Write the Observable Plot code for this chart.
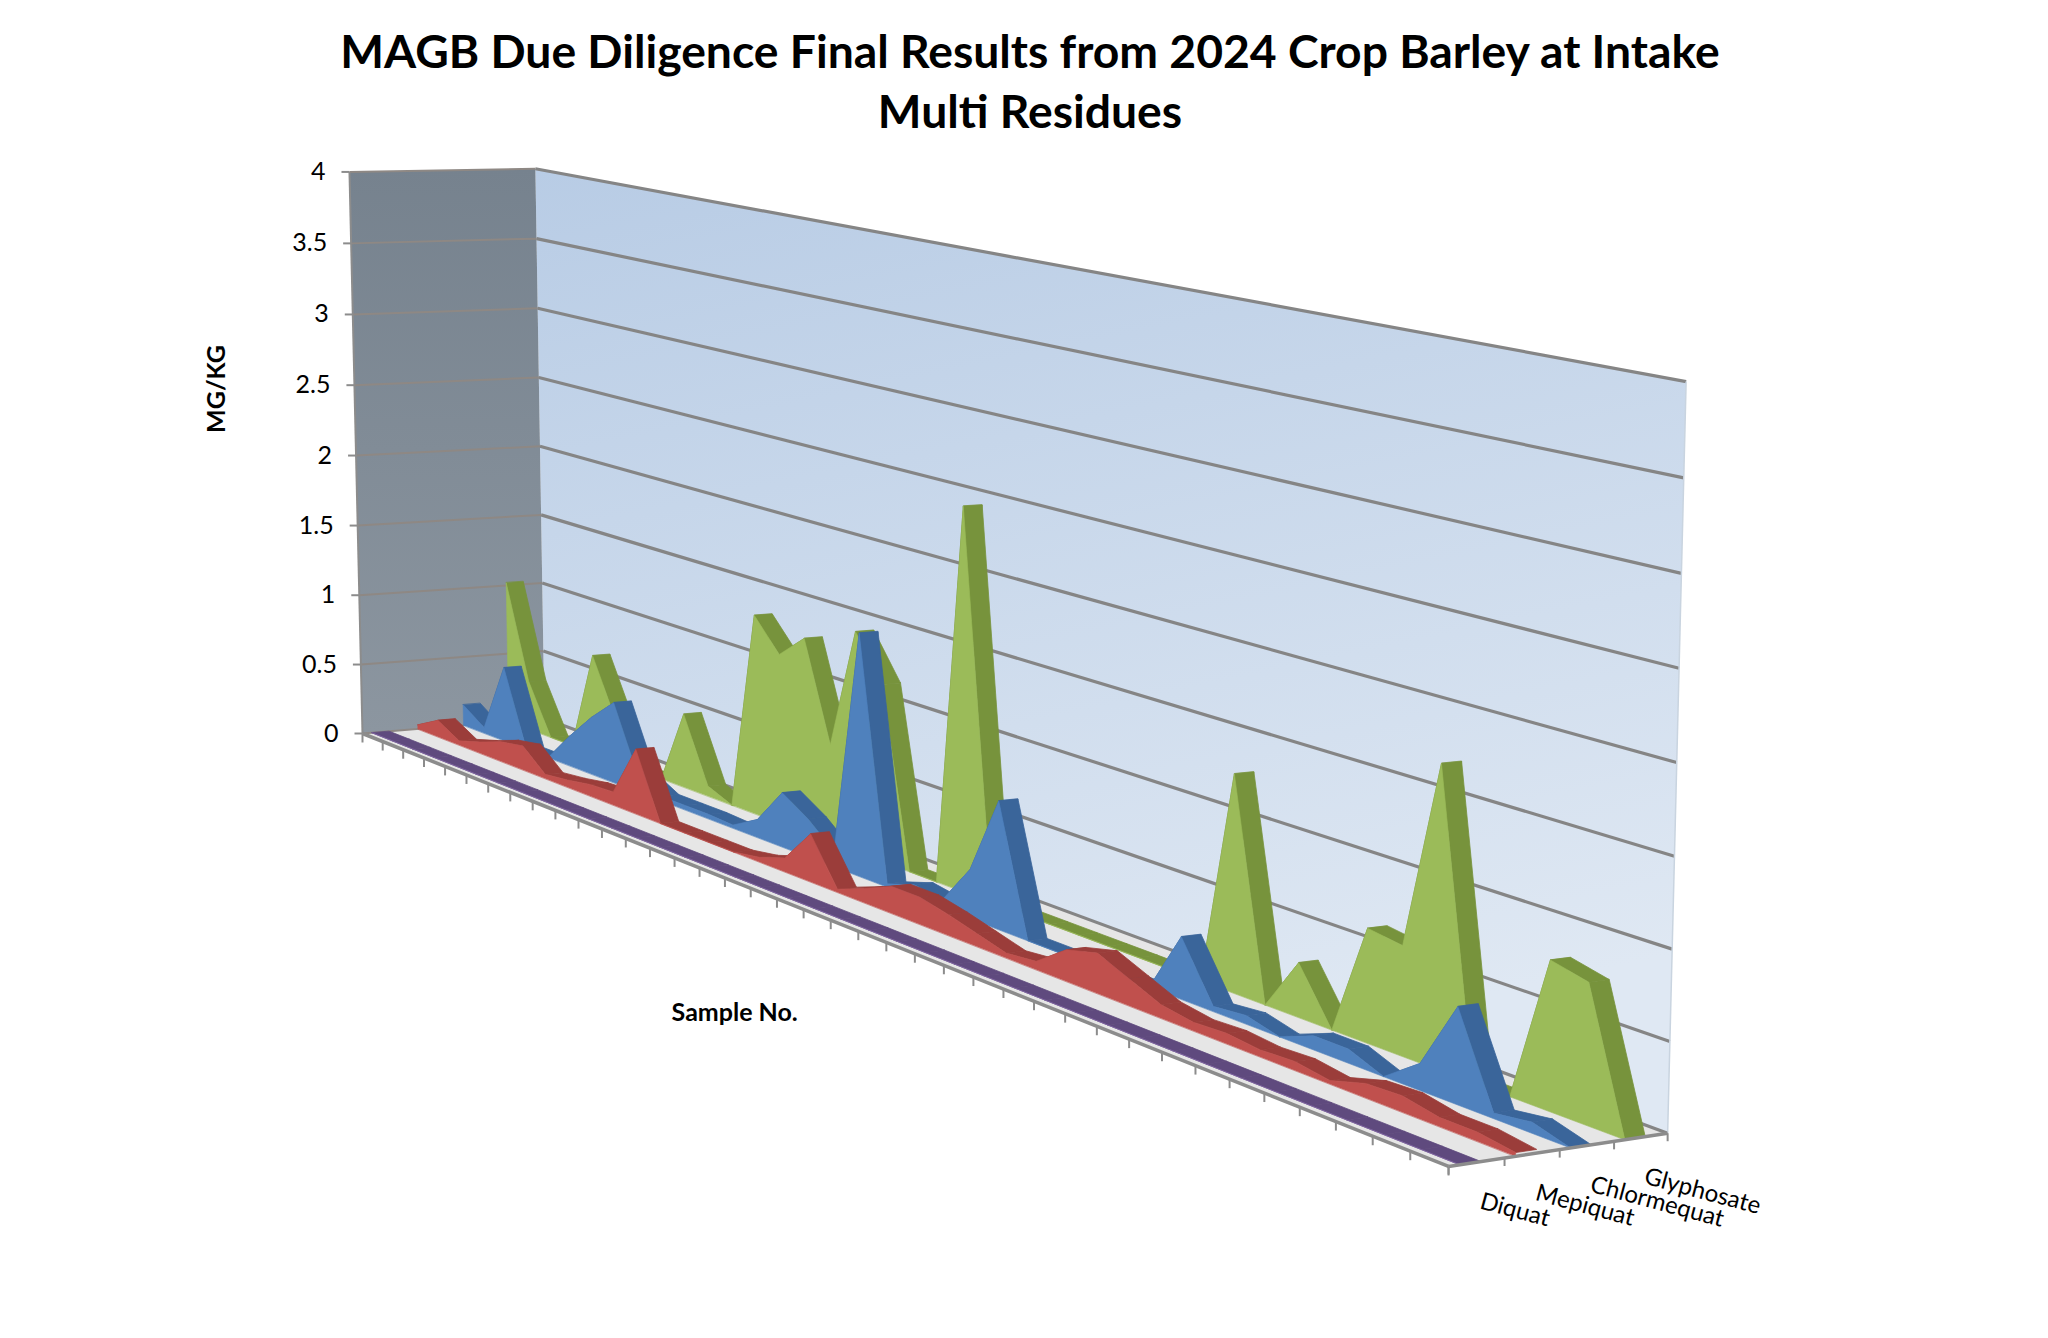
<!DOCTYPE html>
<html>
<head>
<meta charset="utf-8">
<script src="https://cdn.jsdelivr.net/npm/d3@7"></script>
<script src="https://cdn.jsdelivr.net/npm/@observablehq/plot@0.6"></script>
<style>
  html, body { margin: 0; padding: 0; background: #fff; }
  #wrap { position: relative; width: 2048px; height: 1338px; overflow: hidden; background: #fff; }
  #title { position: absolute; left: 0; width: 2060px; margin: 0; text-align: center;
           font-family: Lato, "Open Sans", sans-serif; font-weight: 700; color: #000; line-height: 60px; }
  #chart svg { display: block; }
</style>
</head>
<body>
<div id="wrap">
  <div id="chart"></div>
  <h1 id="title">MAGB Due Diligence Final Results from 2024 Crop Barley at Intake<br>Multi Residues</h1>
</div>
<script>
// ---------------- data ----------------
const sampleNo = [1,2,3,4,5,6,7,8,9,10,11,12,13,14,15,16,17,18,19,20,
                  21,22,23,24,25,26,27,28,29,30,31,32,33,34,35,36,37,38,39,40];
const seriesNames = ["Diquat", "Mepiquat", "Chlormequat", "Glyphosate"];
const diquat = [0,0,0,0,0,0,0,0,0,0, 0,0,0,0,0,0,0,0,0,0,
                0,0,0,0,0,0,0,0,0,0, 0,0,0,0,0,0,0,0,0,0];
const mepiquat = [0.03,0.12,0.03,0.08,0.14,0.17,0.03,0.05,0.08,0.09,
                  0.44,0,0,0,0,0.03,0.09,0.31,0.02,0.09,
                  0.17,0.17,0.13,0.08,0.03,0.05,0.19,0.24,0.16,0.08,
                  0.05,0.06,0.04,0.05,0.02,0.08,0.09,0.05,0.05,0.02];
const chlormequat = [0.15,0.04,0.53,0,0,0.21,0.40,0.56,0.12,0.03,
                     0.03,0.03,0.02,0.12,0.36,0.25,0.10,1.57,0.02,0.08,
                     0.05,0.31,0.80,0,0,0,0,0,0.37,0.03,
                     0.05,0,0.08,0.08,0,0.15,0.54,0.03,0.06,0];
const glyphosate = [1.02,0.35,0,0,0.70,0.30,0,0,0.51,0.07,
                    0,1.35,1.14,1.30,0.65,1.45,1.16,0,0,2.45,
                    0,0,0,0,0,0,0,0,1.30,0,
                    0.32,0,0.66,0.63,1.72,0,0,0.83,0.78,0];
const valueTicks = [0, 0.5, 1, 1.5, 2, 2.5, 3, 3.5, 4];
const valueTickLabels = ["0", "0.5", "1", "1.5", "2", "2.5", "3", "3.5", "4"];
const yMax = 4;

// ---------------- styling ----------------
const frontColors = ["#8064A2", "#C0504D", "#4F81BD", "#9BBB59"];
const topColors   = ["#5F4A7E", "#9B3D3A", "#3A659A", "#77933C"];
const FONT = "Lato, 'Open Sans', sans-serif";

// ---------------- 3D perspective projection (u: sample axis, v: series depth, Y: value/yMax) ----------------
const C = {a: 680.6, b: 193.7, c: 362, d: 106.5, e: 0.49, f: 733, g: -0.28, h: 0.02157, qx: -20, qy: -565, q3: -0.02};
function proj(u, v, Y) {
  const w = 1 + C.g * u + C.h * v + C.q3 * Y;
  return [(C.a * u + C.b * v + C.c + C.qx * Y) / w, (C.d * u + C.e * v + C.f + C.qy * Y) / w];
}
const seriesValues = [diquat, mepiquat, chlormequat, glyphosate];
const n = sampleNo.length;
const uAt = i => i / (n - 1);
const toRows = (id, pts) => pts.map(([x, y]) => ({id, x, y}));
const poly = (rows, opts) => Plot.line(rows, {x: "x", y: "y", z: "id", curve: "linear-closed", ...opts});

const marks = [];

// walls and floor
marks.push(poly(toRows("back", [proj(0,1,0), proj(1,1,0), proj(1,1,1), proj(0,1,1)]), {fill: "url(#gBack)", stroke: "none"}));
marks.push(poly(toRows("left", [proj(0,0,0), proj(0,1,0), proj(0,1,1), proj(0,0,1)]), {fill: "url(#gLeft)", stroke: "none"}));
marks.push(poly(toRows("floor", [proj(0,0,0), proj(1,0,0), proj(1,1,0), proj(0,1,0)]), {fill: "#e6e6e6", stroke: "none"}));

// gridlines on the left wall and the back wall
const gridRows = valueTicks.map(t => {
  const [lx1, ly1] = proj(0, 0, t / yMax), [lx2, ly2] = proj(0, 1, t / yMax), [bx2, by2] = proj(1, 1, t / yMax);
  return {t, lx1, ly1, lx2, ly2, bx2, by2};
});
marks.push(Plot.link(gridRows, {x1: "lx1", y1: "ly1", x2: "lx2", y2: "ly2", stroke: "#8e8884", strokeWidth: 2}));
marks.push(Plot.link(gridRows, {x1: "lx2", y1: "ly2", x2: "bx2", y2: "by2", stroke: "#858585", strokeWidth: 3.2}));
// back wall right edge
marks.push(Plot.link([{}], {x1: () => proj(1,1,0)[0], y1: () => proj(1,1,0)[1], x2: () => proj(1,1,1)[0], y2: () => proj(1,1,1)[1], stroke: "#c9d4e0", strokeWidth: 1.5}));

// series slabs, drawn back to front
for (let s = seriesValues.length - 1; s >= 0; s--) {
  const vals = seriesValues[s];
  const vf = (s + 0.2) / 4, vb = (s + 0.58) / 4;
  const quads = [];
  for (let i = 0; i < n - 1; i++) {
    const y0 = vals[i] / yMax, y1 = vals[i + 1] / yMax;
    quads.push(...toRows(`${s}-${i}`, [proj(uAt(i), vf, y0), proj(uAt(i + 1), vf, y1), proj(uAt(i + 1), vb, y1), proj(uAt(i), vb, y0)]));
  }
  marks.push(poly(quads, {fill: topColors[s], stroke: topColors[s], strokeWidth: 0.8}));
  const front = [proj(0, vf, 0), ...vals.map((val, i) => proj(uAt(i), vf, val / yMax)), proj(1, vf, 0)];
  marks.push(poly(toRows(`f${s}`, front), {fill: frontColors[s], stroke: frontColors[s], strokeWidth: 0.6}));
}

// value axis
marks.push(Plot.link([{}], {x1: () => proj(0,0,0)[0], y1: () => proj(0,0,0)[1], x2: () => proj(0,0,1)[0], y2: () => proj(0,0,1)[1], stroke: "#8c8c8c", strokeWidth: 2}));
const vTickRows = valueTicks.map((t, k) => { const [x, y] = proj(0, 0, t / yMax); return {x, y, label: valueTickLabels[k]}; });
marks.push(Plot.link(vTickRows, {x1: d => d.x - 8, y1: "y", x2: "x", y2: "y", stroke: "#8c8c8c", strokeWidth: 2}));
marks.push(Plot.text(vTickRows, {x: d => d.x - 24, y: "y", text: "label", textAnchor: "end", lineAnchor: "middle",
  fontSize: 25, fontFamily: FONT, fill: "#000"}));

// category (sample) axis
marks.push(Plot.link([{}], {x1: () => proj(0,0,0)[0], y1: () => proj(0,0,0)[1], x2: () => proj(1,0,0)[0], y2: () => proj(1,0,0)[1], stroke: "#8c8c8c", strokeWidth: 3.5}));
const cTickRows = sampleNo.map((d, i) => { const [x, y] = proj(uAt(i), 0, 0); return {x, y}; });
marks.push(Plot.link(cTickRows, {x1: "x", y1: "y", x2: "x", y2: d => d.y + 9, stroke: "#8c8c8c", strokeWidth: 2}));

// depth (series) axis
marks.push(Plot.link([{}], {x1: () => proj(1,0,0)[0], y1: () => proj(1,0,0)[1], x2: () => proj(1,1,0)[0], y2: () => proj(1,1,0)[1], stroke: "#8c8c8c", strokeWidth: 3.5}));
const dTickRows = [0, 1, 2, 3, 4].map(k => { const [x, y] = proj(1, k / 4, 0); return {x, y}; });
marks.push(Plot.link(dTickRows, {x1: "x", y1: "y", x2: "x", y2: d => d.y + 8, stroke: "#8c8c8c", strokeWidth: 2}));
const dLabelRows = seriesNames.map((name, s) => { const [x, y] = proj(1, (s + 0.5) / 4, 0); return {x, y, name}; });
marks.push(Plot.text(dLabelRows, {x: d => d.x + 2, y: d => d.y + 46, text: "name", rotate: 15, textAnchor: "start", lineAnchor: "bottom",
  fontSize: 24, fontFamily: FONT, fill: "#000"}));

// axis titles
const yTitleAt = proj(0, 0, 0.62), xTitleAt = proj(0.42, 0, 0);
marks.push(Plot.text(["MG/KG"], {x: () => yTitleAt[0] - 137, y: () => yTitleAt[1] + 1, text: d => d, rotate: -90,
  fontSize: 25, fontWeight: "bold", fontFamily: FONT, fill: "#000"}));
marks.push(Plot.text(["Sample No."], {x: () => xTitleAt[0], y: () => xTitleAt[1] + 131, text: d => d,
  fontSize: 25, fontWeight: "bold", fontFamily: FONT, fill: "#000"}));

const svg = Plot.plot({
  width: 2048, height: 1338, margin: 0,
  x: {domain: [0, 2048], range: [0, 2048], axis: null},
  y: {domain: [0, 1338], range: [0, 1338], axis: null},
  style: {background: "#fff"},
  marks
});
const NS = "http://www.w3.org/2000/svg";
const defs = document.createElementNS(NS, "defs");
defs.innerHTML = `
  <linearGradient id="gBack" x1="0" y1="0" x2="0.25" y2="1">
    <stop offset="0" stop-color="#b8cce5"/><stop offset="1" stop-color="#dfe8f3"/>
  </linearGradient>
  <linearGradient id="gLeft" x1="0" y1="0" x2="0" y2="1">
    <stop offset="0" stop-color="#76828e"/><stop offset="1" stop-color="#8c96a0"/>
  </linearGradient>`;
svg.insertBefore(defs, svg.firstChild);
document.getElementById("chart").appendChild(svg);

// title: fit the first line's width to the reference
const title = document.getElementById("title");
const ctx = document.createElement("canvas").getContext("2d");
ctx.font = `700 100px ${FONT}`;
const w100 = ctx.measureText("MAGB Due Diligence Final Results from 2024 Crop Barley at Intake").width;
const F = Math.max(30, Math.min(56, 100 * 1381 / w100));
title.style.fontSize = F + "px";
title.style.top = (68 - 30 - 0.387 * F) + "px";
</script>
</body>
</html>
